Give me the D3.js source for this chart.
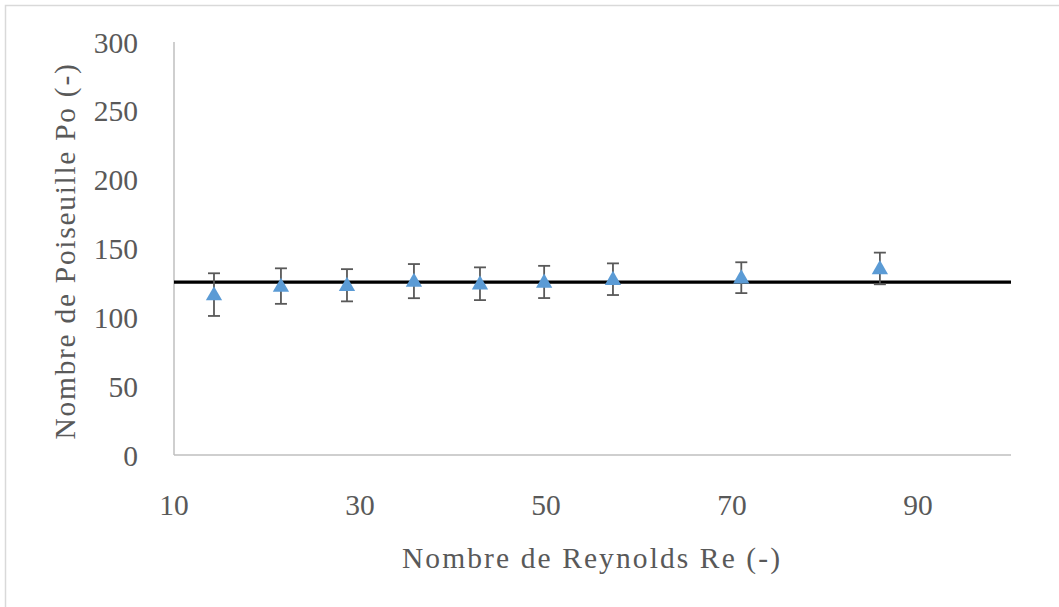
<!DOCTYPE html>
<html><head><meta charset="utf-8">
<script src="https://cdn.jsdelivr.net/npm/d3@7"></script>
<style>body{margin:0;background:#fff}svg{display:block}text{font-family:"Liberation Serif","DejaVu Serif",serif;fill:#595959}</style>
</head><body>
<script>
const reynolds = [14.3, 21.5, 28.6, 35.8, 42.9, 49.8, 57.2, 71.0, 85.9];
const poiseuille = [116.5, 122.7, 123.3, 126.3, 124.4, 125.7, 127.7, 128.8, 135.5];
const errors = [15.5, 12.9, 11.7, 12.4, 11.9, 11.7, 11.5, 11.2, 11.5];
const theoryPo = 125.6;
const xTicks = [10, 30, 50, 70, 90];
const yTicks = [0, 50, 100, 150, 200, 250, 300];
const xLabel = "Nombre de Reynolds Re (-)";
const yLabel = "Nombre de Poiseuille Po (-)";

const W = 1059, H = 607;
const svg = d3.select("body").append("svg").attr("width", W).attr("height", H);
svg.append("rect").attr("x", 5.5).attr("y", 5.5).attr("width", 1070).attr("height", 620)
  .attr("fill", "none").attr("stroke", "#d9d9d9").attr("stroke-width", 1.5);

const x = d3.scaleLinear().domain([10, 100]).range([174, 1011]);
const y = d3.scaleLinear().domain([0, 300]).range([455, 42]);

// axes lines
svg.append("line").attr("x1", x(10)).attr("x2", x(10)).attr("y1", y(0)).attr("y2", y(300))
  .attr("stroke", "#bfbfbf").attr("stroke-width", 1.5);
svg.append("line").attr("x1", x(10)).attr("x2", x(100)).attr("y1", y(0)).attr("y2", y(0))
  .attr("stroke", "#bfbfbf").attr("stroke-width", 1.5);

// tick labels
svg.selectAll(".yt").data(yTicks).join("text").attr("class", "yt")
  .attr("x", 138).attr("y", d => y(d)).attr("dy", "0.36em")
  .attr("text-anchor", "end").attr("font-size", 29.5).text(d => d);
svg.selectAll(".xt").data(xTicks).join("text").attr("class", "xt")
  .attr("x", d => x(d)).attr("y", 515)
  .attr("text-anchor", "middle").attr("font-size", 29.5).text(d => d);

// titles
svg.append("text").attr("x", 592).attr("y", 568).attr("text-anchor", "middle")
  .attr("font-size", 29.5).attr("letter-spacing", 2.1).text(xLabel);
svg.append("text").attr("transform", "translate(75,251) rotate(-90)").attr("text-anchor", "middle")
  .attr("font-size", 29.5).attr("letter-spacing", 1.7).text(yLabel);

// theory line
svg.append("line").attr("x1", x(10)).attr("x2", x(100)).attr("y1", y(theoryPo)).attr("y2", y(theoryPo))
  .attr("stroke", "#000").attr("stroke-width", 3.2);

const data = reynolds.map((r, i) => ({r, p: poiseuille[i], e: errors[i]}));
const eb = svg.append("g").attr("stroke", "#595959").attr("stroke-width", 1.8);
data.forEach(d => {
  const cx = x(d.r);
  eb.append("line").attr("x1", cx).attr("x2", cx).attr("y1", y(d.p + d.e)).attr("y2", y(d.p - d.e));
  eb.append("line").attr("x1", cx - 6).attr("x2", cx + 6).attr("y1", y(d.p + d.e)).attr("y2", y(d.p + d.e));
  eb.append("line").attr("x1", cx - 6).attr("x2", cx + 6).attr("y1", y(d.p - d.e)).attr("y2", y(d.p - d.e));
});
const tri = d3.symbol().type(d3.symbolTriangle).size(115);
svg.selectAll(".pt").data(data).join("path").attr("class", "pt")
  .attr("transform", d => `translate(${x(d.r)},${y(d.p) + 1})`)
  .attr("d", tri).attr("fill", "#5b9bd5");
</script>
</body></html>
